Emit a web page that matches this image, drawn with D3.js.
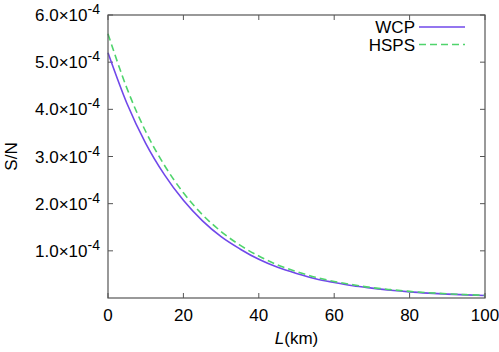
<!DOCTYPE html>
<html>
<head>
<meta charset="utf-8">
<script src="https://cdn.jsdelivr.net/npm/d3@7"></script>
<style>
  body { margin: 0; background: #fff; }
  text { font-family: "Liberation Sans", Arial, sans-serif; fill: #000; }
</style>
</head>
<body>
<script>
// distance in km
var distances = [0, 5, 10, 15, 20, 25, 30, 35, 40, 45, 50, 55, 60, 65, 70, 75, 80, 85, 90, 95, 100];
// S/N values (units of 1e-4)
var wcp  = [5.20, 4.13, 3.28, 2.61, 2.07, 1.64, 1.30, 1.04, 0.82, 0.65, 0.52, 0.41, 0.33, 0.26, 0.21, 0.165, 0.13, 0.104, 0.083, 0.066, 0.052];
var hsps = [5.60, 4.45, 3.53, 2.81, 2.23, 1.77, 1.41, 1.12, 0.89, 0.70, 0.56, 0.44, 0.35, 0.28, 0.22, 0.177, 0.14, 0.112, 0.089, 0.071, 0.056];
var seriesNames = ["WCP", "HSPS"];
var xTicks = [0, 20, 40, 60, 80, 100];
var yTicks = [1, 2, 3, 4, 5, 6];

var W = 499, H = 352;
var margin = {left: 108, right: 14, top: 15, bottom: 54};
var width = W - margin.left - margin.right,
    height = H - margin.top - margin.bottom;

var svg = d3.select("body").append("svg")
    .attr("width", W).attr("height", H);

var x = d3.scaleLinear().domain([0, 100]).range([0, width]);
var y = d3.scaleLinear().domain([0, 6]).range([height, 0]);

var g = svg.append("g")
    .attr("transform", "translate(" + margin.left + "," + margin.top + ")");

var axisColor = "#555";
var fs = 17;

// ticks (inward, mirrored)
xTicks.forEach(function(t) {
  g.append("line").attr("x1", x(t)).attr("x2", x(t)).attr("y1", height).attr("y2", height - 5)
    .attr("stroke", axisColor);
  g.append("line").attr("x1", x(t)).attr("x2", x(t)).attr("y1", 0).attr("y2", 5)
    .attr("stroke", axisColor);
  g.append("text").attr("x", x(t)).attr("y", height + 23)
    .attr("text-anchor", "middle").attr("font-size", fs).text(t);
});

yTicks.forEach(function(t) {
  g.append("line").attr("x1", 0).attr("x2", 5).attr("y1", y(t)).attr("y2", y(t))
    .attr("stroke", axisColor);
  g.append("line").attr("x1", width).attr("x2", width - 5).attr("y1", y(t)).attr("y2", y(t))
    .attr("stroke", axisColor);
  var lbl = g.append("text").attr("x", -8).attr("y", y(t) + 6)
    .attr("text-anchor", "end").attr("font-size", fs);
  lbl.append("tspan").text(t.toFixed(1) + "\u00d710");
  lbl.append("tspan").attr("dy", -7).attr("font-size", 14).text("-4");
});

// curves
var line = d3.line()
    .x(function(d) { return x(d[0]); })
    .y(function(d) { return y(d[1]); })
    .curve(d3.curveMonotoneX);

var colors = ["#7048ea", "#4fd46c"];
var dashes = [null, "7,4"];
[wcp, hsps].forEach(function(vals, i) {
  g.append("path")
    .datum(distances.map(function(d, j) { return [d, vals[j]]; }))
    .attr("fill", "none")
    .attr("stroke", colors[i])
    .attr("stroke-width", 1.6)
    .attr("stroke-dasharray", dashes[i])
    .attr("d", line);
});

// frame
g.append("rect").attr("width", width).attr("height", height)
  .attr("fill", "none").attr("stroke", axisColor).attr("stroke-width", 1.2);

// legend
seriesNames.forEach(function(name, i) {
  var ly = 12 + i * 17.5;
  g.append("text").attr("x", 307).attr("y", ly + 6)
    .attr("text-anchor", "end").attr("font-size", fs).text(name);
  g.append("line").attr("x1", 311).attr("x2", 357).attr("y1", ly).attr("y2", ly)
    .attr("stroke", colors[i]).attr("stroke-width", 1.6)
    .attr("stroke-dasharray", dashes[i]);
});

// axis titles
var xt = svg.append("text").attr("x", margin.left + width / 2).attr("y", 344)
  .attr("text-anchor", "middle").attr("font-size", fs);
xt.append("tspan").attr("font-style", "italic").text("L");
xt.append("tspan").text("(km)");

svg.append("text")
  .attr("transform", "translate(17," + (margin.top + height / 2) + ") rotate(-90)")
  .attr("text-anchor", "middle").attr("font-size", fs).text("S/N");
</script>
</body>
</html>
